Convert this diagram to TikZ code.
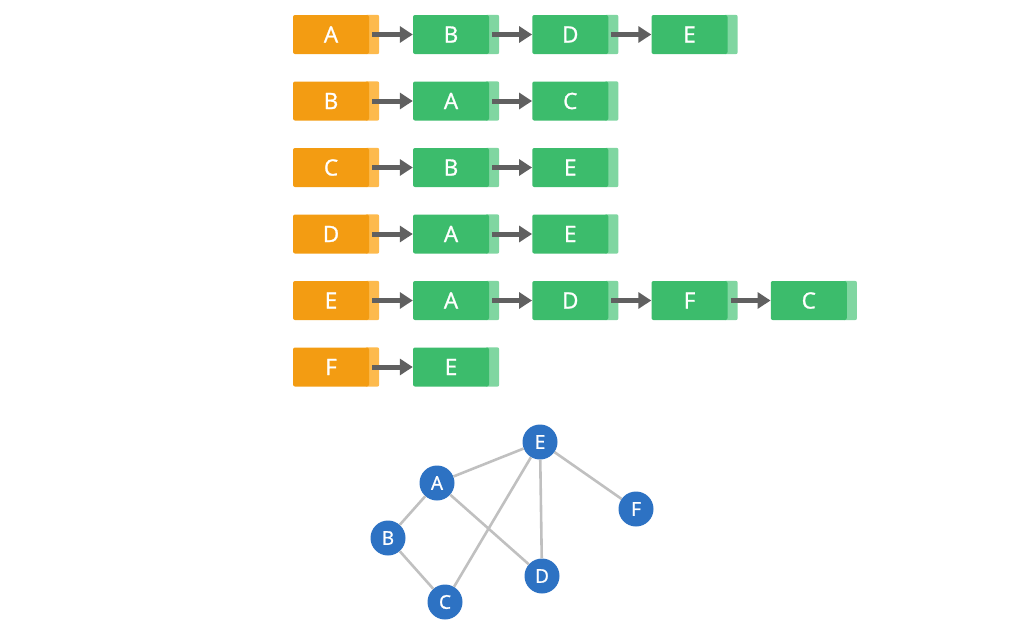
\documentclass[tikz,border=0pt]{standalone}
\usepackage{fontspec}
\setmainfont{Open Sans}
\newfontfamily\labelfont{Open Sans}[FakeBold=1.2]
\usetikzlibrary{arrows.meta,backgrounds}
\definecolor{headcol}{HTML}{F39C12}
\definecolor{headtip}{HTML}{FDBA4D}
\definecolor{listcol}{HTML}{3CBC6C}
\definecolor{listtip}{HTML}{80D6A1}
\definecolor{vertcol}{HTML}{2D72C3}
\definecolor{edgecol}{HTML}{C0C0C0}
\definecolor{arrcol}{HTML}{606060}

\begin{document}
\begin{tikzpicture}[x=1pt,y=-1pt]
            \tikzset{
                box/.style={rectangle, rounded corners=2pt, minimum width=76pt, minimum height=39pt, inner sep=0pt, text=white, font=\labelfont\fontsize{22.5}{22.5}\selectfont},
                headbox/.style={box, fill=headcol},
                listbox/.style={box, fill=listcol},
                vertex/.style={circle, fill=vertcol, minimum size=35pt, inner sep=0pt, text=white, font=\labelfont\fontsize{19}{19}\selectfont},
                edge/.style={edgecol, line width=2.6pt},
                arr/.style={arrcol, line width=5pt, -{Triangle[length=13pt,width=16pt]}},}
            \useasboundingbox (0,0) rectangle (1024,633);
            % adjacency lists
            \foreach \head/\rest [count=\r] in {A/{B,D,E},B/{A,C},C/{B,E},D/{A,E},E/{A,D,F,C},F/{E}}{
                \node[headbox] (r\r-0) at (331,{34.5+66.5*(\r-1)}) {\head};
                \begin{scope}[on background layer]
                    \fill[headtip, rounded corners=2pt] ([xshift=-4pt]r\r-0.north east) rectangle ([xshift=10pt]r\r-0.south east);
                \end{scope}
                \foreach \v [count=\c] in \rest {
                    \pgfmathtruncatemacro\p{\c-1}
                    \node[listbox] (r\r-\c) at ({451+119.25*(\c-1)},{34.5+66.5*(\r-1)}) {\v};
                    \begin{scope}[on background layer]
                        \fill[listtip, rounded corners=2pt] ([xshift=-4pt]r\r-\c.north east) rectangle ([xshift=10pt]r\r-\c.south east);
                    \end{scope}
                    \draw[arr] ([xshift=3pt]r\r-\p.east) -- (r\r-\c.west);
                }
            }
            % the graph
            \node[vertex] (vA) at (437,483) {A};
            \node[vertex] (vB) at (388,538) {B};
            \node[vertex] (vC) at (445,602) {C};
            \node[vertex] (vD) at (542,576) {D};
            \node[vertex] (vE) at (540,442) {E};
            \node[vertex] (vF) at (636,509) {F};
            \foreach \a/\b in {E/A,E/C,E/D,E/F,A/B,A/D,B/C}
                \draw[edge] (v\a) -- (v\b);
        \end{tikzpicture}
\end{document}
